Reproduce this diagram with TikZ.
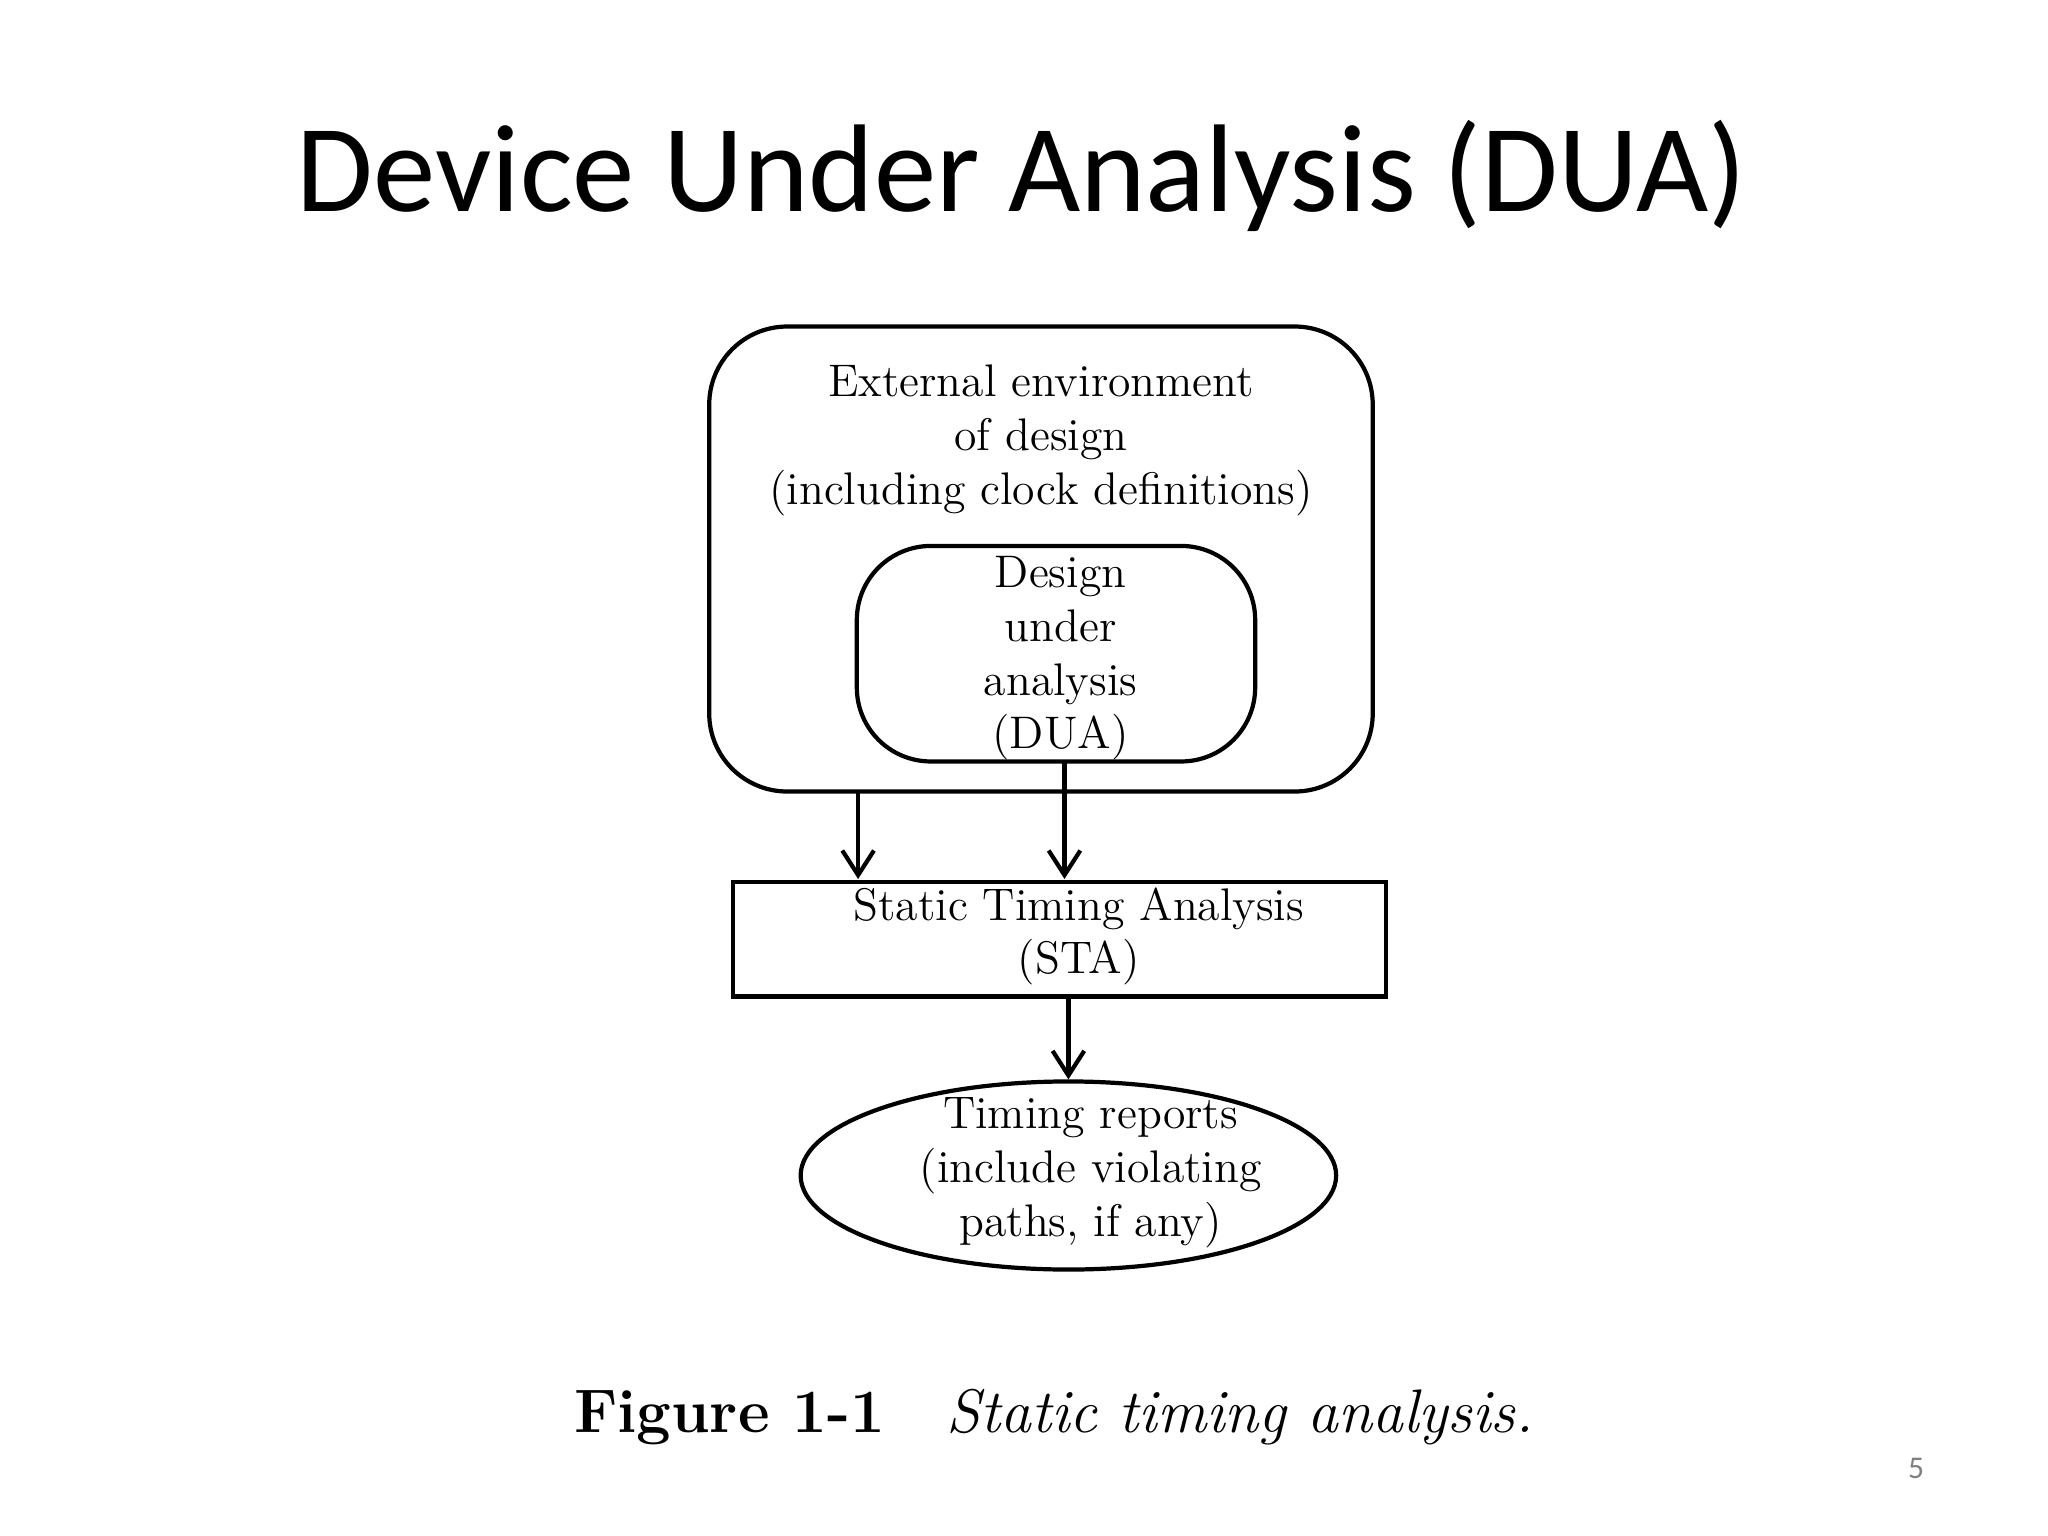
\documentclass[tikz,border=0pt]{standalone}
\usepackage{fontspec}
\newfontfamily\titlefont{Carlito}
\usetikzlibrary{shapes.geometric,arrows.meta}
\begin{document}
\begin{tikzpicture}[x=0.01306cm,y=-0.01306cm,
  txt/.style={font=\fontsize{13}{15.3}\selectfont, align=center, inner sep=0},
  box/.style={draw, line width=1.2pt},
  arr/.style={line width=1.2pt, -{Straight Barb[length=7pt,width=9pt]}}]
\useasboundingbox (0,0) rectangle (1568,1176);
\node[font=\titlefont\fontsize{35.5}{40}\selectfont] (title) at (782,135) {Device Under Analysis (DUA)};
\draw[box, rounded corners=0.78cm] (543,250) rectangle (1051,606);
\node[txt] (ext) at (797,337) {External environment\\of design\\(including clock definitions)};
\draw[box, rounded corners=0.74cm] (656,418) rectangle (961,583);
\node[txt] (dua) at (812,504) {Design\\under\\analysis\\(DUA)};
\node[box, minimum width=500*0.01306cm, minimum height=88*0.01306cm, inner sep=0] (sta) at (811,719) {};
\node[txt] at (826,717) {Static Timing Analysis\\(STA)};
\node[box, ellipse, minimum width=410*0.01306cm, minimum height=144*0.01306cm, inner sep=0] (rep) at (818,900) {};
\node[txt] at (835,898) {Timing reports\\(include violating\\paths, if any)};
\coordinate (o1) at (657,606);
\coordinate (o2) at (815,583);
\draw[arr] (o1) -- (657,673);
\draw[arr] (o2) -- (815,673);
\draw[arr] (818,763) -- (rep.north);
\node[font=\fontsize{17.5}{20}\selectfont, anchor=west] (cap) at (430,1085) {\textbf{Figure 1-1}\quad\textit{Static timing analysis.}};
\node[font=\titlefont\fontsize{9}{10}\selectfont, text=gray] (pg) at (1467,1124) {5};
\end{tikzpicture}
\end{document}
